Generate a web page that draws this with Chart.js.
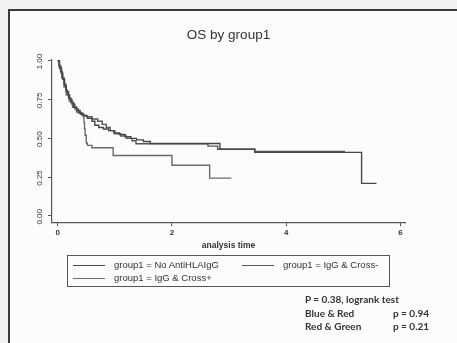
<!DOCTYPE html>
<html>
<head>
<meta charset="utf-8">
<script src="https://cdn.jsdelivr.net/npm/chart.js@4.4.1/dist/chart.umd.min.js"></script>
<style>
  html, body { margin: 0; padding: 0; background: #f2f2f2; }
  #wrap { position: relative; width: 457px; height: 343px; overflow: hidden; background: #f2f2f2; }
  #frame { position: absolute; left: 8px; top: 9px; right: -4px; bottom: -4px;
           border-left: 2px solid #3a3a3a; border-top: 2px solid #3a3a3a; background: #fcfcfc; }
  #chart { position: absolute; left: 0; top: 0; }
  #legend { position: absolute; left: 67px; top: 255px; width: 323px; height: 32px;
            border: 1px solid #555; box-sizing: border-box; font: 9.5px "Liberation Sans", Arial, sans-serif; color: #333; }
  .item { position: absolute; height: 12px; line-height: 12px; white-space: nowrap; }
  .item i { display: inline-block; width: 32px; border-top: 1.4px solid #4a4a4a; vertical-align: middle; margin-right: 9px; }
  #note { position: absolute; left: 305px; top: 293px; font: bold 10px Lato, sans-serif; color: #333; line-height: 13.5px; }
  #note span { position: absolute; left: 88px; white-space: nowrap; }
  #note div { position: relative; white-space: nowrap; }
</style>
</head>
<body>
<div id="wrap">
  <div id="frame"></div>
  <canvas id="chart" width="457" height="343"></canvas>
  <div id="legend"></div>
  <div id="note">
    <div>P = 0.38, logrank test</div>
    <div>Blue &amp; Red<span>p = 0.94</span></div>
    <div>Red &amp; Green<span>p = 0.21</span></div>
  </div>
</div>
<script>
"use strict";

// Kaplan-Meier style survival curves, OS by group1
const tBlue = [0, 0.03, 0.06, 0.09, 0.12, 0.15, 0.19, 0.23, 0.28, 0.33, 0.39, 0.45, 0.52, 0.60, 0.65, 0.72, 0.80, 0.89, 0.98, 1.08, 1.18, 1.28, 1.38, 1.50, 1.62, 2.84, 3.45, 5.32, 5.58];
const sBlue = [1.00, 0.96, 0.92, 0.88, 0.84, 0.80, 0.76, 0.73, 0.70, 0.68, 0.66, 0.645, 0.63, 0.61, 0.585, 0.57, 0.56, 0.55, 0.535, 0.525, 0.51, 0.50, 0.49, 0.48, 0.467, 0.43, 0.41, 0.21, 0.21];

const tRed = [0, 0.02, 0.05, 0.08, 0.11, 0.14, 0.17, 0.21, 0.25, 0.30, 0.36, 0.42, 0.50, 0.60, 0.70, 0.78, 0.85, 0.92, 1.00, 1.10, 1.20, 1.30, 1.37, 2.63, 2.80, 3.45, 5.03];
const sRed = [1.00, 0.97, 0.93, 0.89, 0.85, 0.81, 0.78, 0.75, 0.72, 0.69, 0.665, 0.65, 0.64, 0.625, 0.61, 0.59, 0.57, 0.55, 0.53, 0.515, 0.50, 0.485, 0.465, 0.45, 0.43, 0.415, 0.415];

const tGreen = [0, 0.03, 0.07, 0.11, 0.15, 0.20, 0.26, 0.33, 0.40, 0.45, 0.46, 0.47, 0.48, 0.50, 0.52, 0.60, 0.97, 2.00, 2.66, 3.04];
const sGreen = [1.00, 0.95, 0.89, 0.83, 0.78, 0.74, 0.70, 0.67, 0.655, 0.64, 0.60, 0.56, 0.52, 0.47, 0.455, 0.44, 0.39, 0.327, 0.244, 0.244];

const groupNames = ["group1 = No AntiHLAIgG", "group1 = IgG & Cross-", "group1 = IgG & Cross+"];
const lineCols = ["#474747", "#565656", "#6a6a6a"];
const xTicks = [0, 2, 4, 6];
const yTicks = [0, 0.25, 0.5, 0.75, 1];

const pts = (ts, ss) => ts.map((t, i) => ({ x: t, y: ss[i] }));
const series = [pts(tBlue, sBlue), pts(tRed, sRed), pts(tGreen, sGreen)];

// ---------- legend (html box, two columns like the Stata output) ----------
const legendPos = [[5, 3], [174, 3], [5, 16]];
document.getElementById("legend").innerHTML = groupNames.map((n, i) =>
  `<div class="item" style="left:${legendPos[i][0]}px;top:${legendPos[i][1]}px"><i style="border-color:${lineCols[i]}"></i>${n.replace(/&/g, "&amp;")}</div>`
).join("");

// ---------- chart ----------
const axisCol = "#555";
const fam = "'Liberation Sans', Arial, sans-serif";
const tickFont = { family: fam, size: 8 };

new Chart(document.getElementById("chart"), {
  type: "line",
  data: {
    datasets: series.map((d, i) => ({
      label: groupNames[i], data: d, stepped: "before", xAxisID: "x", yAxisID: "y",
      borderColor: lineCols[i], borderWidth: 1.4, pointRadius: 0, fill: false,
    })),
  },
  options: {
    responsive: false, animation: false,
    layout: { padding: { top: 27, right: 52, bottom: 90, left: 0 } },
    plugins: { legend: { display: false }, tooltip: { enabled: false } },
    scales: {
      x: {
        type: "linear", min: -0.1, max: 6.08,
        afterBuildTicks: s => { s.ticks = xTicks.map(v => ({ value: v })); },
        grid: { display: true, drawOnChartArea: false, drawTicks: true, tickLength: 4, color: axisCol },
        border: { display: true, color: axisCol, width: 1.2 },
        ticks: { padding: 2, color: "#333", font: { family: fam, size: 8, weight: "bold" } },
        title: { display: true, text: "analysis time", color: "#333",
                 font: { family: fam, size: 8.5, weight: "bold" },
                 padding: { top: 1, bottom: 2 } },
      },
      y: {
        min: -0.04, max: 1.01,
        afterBuildTicks: s => { s.ticks = yTicks.map(v => ({ value: v })); },
        afterFit: s => { s.width = 52; },
        grid: { display: true, drawOnChartArea: false, drawTicks: true, tickLength: 4, color: axisCol },
        border: { display: true, color: axisCol, width: 1.2 },
        ticks: { minRotation: 90, maxRotation: 90, padding: 8, labelOffset: -7, color: "#333", font: tickFont,
                 callback: v => Number(v).toFixed(2) },
      },
      // top axis only carries the title, so it centres over the plot region
      top: {
        type: "linear", position: "top",
        grid: { display: false }, border: { display: false }, ticks: { display: false },
        title: { display: true, text: "OS by group1", color: "#333",
                 font: { family: fam, size: 13.5 }, padding: { top: 0, bottom: 8 } },
      },
    },
  },
});
</script>
</body>
</html>
